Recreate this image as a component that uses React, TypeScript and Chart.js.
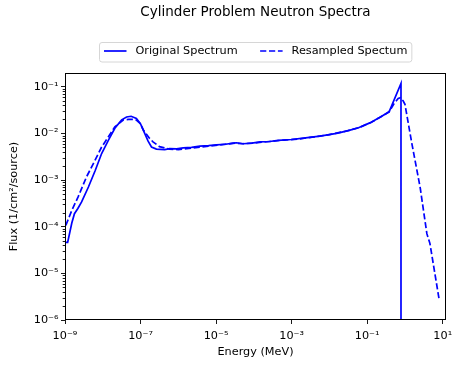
import React, { useEffect, useRef } from "react";
import { Chart, registerables } from "chart.js";

Chart.register(...registerables);

const chartTitle = "Cylinder Problem Neutron Spectra";
const xAxisLabel = "Energy (MeV)";
const yAxisLabel = "Flux (1/cm²/source)";
const seriesNames = ["Original Spectrum", "Resampled Spectum"];

const originalEnergy = [
  1.0e-9, 1.175e-9, 1.514e-9, 1.778e-9, 2.188e-9, 2.754e-9, 4.169e-9, 6.31e-9,
  9.333e-9, 1.413e-8, 2.089e-8, 3.162e-8, 4.266e-8, 5.623e-8, 7.762e-8, 1.0e-7,
  1.288e-7, 1.585e-7, 1.95e-7, 2.63e-7, 4.365e-7, 5.888e-7, 8.913e-7, 1.349e-6,
  2.239e-6, 3.715e-6, 6.31e-6, 1.023e-5, 1.778e-5, 2.818e-5, 3.467e-5, 5.248e-5,
  8.913e-5, 1.445e-4, 2.63e-4, 4.365e-4, 1.0e-3, 2.042e-3, 5.623e-3, 1.549e-2,
  3.162e-2, 5.888e-2, 0.1175, 0.2239, 0.3802, 0.785, 0.785,
];
const originalFlux = [
  4.6e-5, 4.6e-5, 1.2e-4, 1.9e-4, 2.45e-4, 3.4e-4, 7.1e-4, 1.6e-3,
  3.7e-3, 7.2e-3, 1.29e-2, 1.95e-2, 2.25e-2, 2.33e-2, 2.1e-2, 1.6e-2,
  1.0e-2, 6.8e-3, 5.1e-3, 4.6e-3, 4.5e-3, 4.7e-3, 4.65e-3, 4.9e-3,
  5.0e-3, 5.35e-3, 5.45e-3, 5.7e-3, 5.85e-3, 6.2e-3, 6.3e-3, 6.0e-3,
  6.2e-3, 6.6e-3, 6.7e-3, 7.1e-3, 7.4e-3, 7.9e-3, 8.7e-3, 1.0e-2,
  1.15e-2, 1.32e-2, 1.68e-2, 2.25e-2, 2.9e-2, 0.118, 1e-12,
];

const resampledEnergy = [
  1.05e-9, 1.514e-9, 2.239e-9, 3.715e-9, 6.31e-9, 9.333e-9, 1.413e-8, 2.089e-8,
  3.548e-8, 4.786e-8, 6.31e-8, 7.762e-8, 1.0e-7, 1.175e-7, 1.738e-7, 2.138e-7,
  3.162e-7, 5.888e-7, 1.0e-6, 2.512e-6, 6.31e-6, 1.585e-5, 3.162e-5, 5.012e-5,
  1.0e-4, 2.512e-4, 6.31e-4, 1.585e-3, 3.981e-3, 1.0e-2, 2.512e-2, 6.31e-2,
  0.1259, 0.2512, 0.3802, 0.5012, 0.6607, 0.7586, 0.8913, 1.0, 1.514, 2.512,
  3.802, 4.571, 8.128,
];
const resampledFlux = [
  1.07e-4, 2.24e-4, 4.4e-4, 1.17e-3, 2.7e-3, 5.1e-3, 8.5e-3, 1.38e-2,
  1.95e-2, 2.0e-2, 2.0e-2, 1.93e-2, 1.6e-2, 1.2e-2, 7.8e-3, 6.6e-3,
  5.2e-3, 4.6e-3, 4.5e-3, 4.9e-3, 5.3e-3, 5.8e-3, 6.2e-3, 6.0e-3,
  6.2e-3, 6.7e-3, 7.2e-3, 7.6e-3, 8.4e-3, 9.4e-3, 1.1e-2, 1.34e-2,
  1.72e-2, 2.35e-2, 2.9e-2, 4.2e-2, 5.6e-2, 5.8e-2, 5.0e-2, 4.2e-2, 6.2e-3, 7.1e-4,
  7.1e-5, 4.4e-5, 2.6e-6,
];

const xTickValues = [1e-9, 1e-7, 1e-5, 1e-3, 1e-1, 1e1];
const yTickValues = [1e-6, 1e-5, 1e-4, 1e-3, 1e-2, 1e-1];
const xRange = [1e-9, 12.2];
const yRange = [1e-6, 0.197];

const FONT = '"DejaVu Sans", sans-serif';
const SUP = "⁰¹²³⁴⁵⁶⁷⁸⁹";
const sup = (n: number) =>
  String(n)
    .split("")
    .map((c) => (c === "-" ? "⁻" : SUP[Number(c)]))
    .join("");
const fmtPow = (v: number) => "10" + sup(Math.round(Math.log10(v)));

const decorPlugin = {
  id: "decor",
  afterDraw(chart: any) {
    const { ctx, chartArea: a, scales } = chart;
    ctx.save();
    // minor y ticks
    const ys = scales.y;
    ctx.strokeStyle = "#000";
    ctx.lineWidth = 0.9;
    for (let d = -6; d <= 0; d++) {
      for (let m = 2; m <= 9; m++) {
        const v = m * Math.pow(10, d);
        if (v >= ys.max || v <= ys.min) continue;
        const py = Math.round(ys.getPixelForValue(v)) + 0.5;
        ctx.beginPath();
        ctx.moveTo(a.left - 2.3, py);
        ctx.lineTo(a.left, py);
        ctx.stroke();
      }
    }
    // frame
    ctx.lineWidth = 1;
    ctx.strokeStyle = "#000";
    ctx.strokeRect(a.left + 0.5, a.top + 0.5, a.right - a.left - 1, a.bottom - a.top - 1);

    const cx = (a.left + a.right) / 2;
    // title
    ctx.fillStyle = "#000";
    ctx.font = `13.5px ${FONT}`;
    ctx.textAlign = "center";
    ctx.textBaseline = "middle";
    ctx.fillText(chartTitle, cx, 12.5);

    // legend
    ctx.font = `11.25px ${FONT}`;
    const ds = chart.data.datasets;
    const pad = 4.5, handle = 22.5, gap = 9, colSp = 22.5;
    const tw = ds.map((d: any) => ctx.measureText(d.label).width);
    const w = pad * 2 + ds.length * (handle + gap) + tw.reduce((s: number, t: number) => s + t, 0) + colSp * (ds.length - 1);
    const x0 = Math.round(cx - w / 2) + 0.5;
    const y0 = 42.5, h = 19.5;
    const r = 2.5;
    ctx.beginPath();
    ctx.moveTo(x0 + r, y0);
    ctx.lineTo(x0 + w - r, y0);
    ctx.arcTo(x0 + w, y0, x0 + w, y0 + r, r);
    ctx.lineTo(x0 + w, y0 + h - r);
    ctx.arcTo(x0 + w, y0 + h, x0 + w - r, y0 + h, r);
    ctx.lineTo(x0 + r, y0 + h);
    ctx.arcTo(x0, y0 + h, x0, y0 + h - r, r);
    ctx.lineTo(x0, y0 + r);
    ctx.arcTo(x0, y0, x0 + r, y0, r);
    ctx.closePath();
    ctx.fillStyle = "rgba(255,255,255,0.8)";
    ctx.fill();
    ctx.strokeStyle = "#d6d6d6";
    ctx.lineWidth = 1;
    ctx.stroke();
    let x = x0 + pad;
    const my = 51.5;
    ds.forEach((d: any, i: number) => {
      ctx.save();
      ctx.strokeStyle = d.borderColor;
      ctx.lineWidth = d.borderWidth;
      ctx.setLineDash(d.borderDash || []);
      ctx.beginPath();
      ctx.moveTo(x, my - 0.5);
      ctx.lineTo(x + handle, my - 0.5);
      ctx.stroke();
      ctx.restore();
      ctx.fillStyle = "#000";
      ctx.textAlign = "left";
      ctx.textBaseline = "middle";
      ctx.fillText(d.label, x + handle + gap, my);
      x += handle + gap + tw[i] + colSp;
    });
    ctx.restore();
  },
};

export default function App() {
  const ref = useRef<HTMLCanvasElement>(null);
  useEffect(() => {
    document.body.style.margin = "0";
    const tickFont = { family: FONT, size: 11.25 };
    const chart = new Chart(ref.current as HTMLCanvasElement, {
      type: "line",
      data: {
        datasets: [
          {
            label: seriesNames[0],
            data: originalEnergy.map((e, i) => ({ x: e, y: originalFlux[i] })),
            borderColor: "#0000ff",
            borderWidth: 1.7,
            pointRadius: 0,
            tension: 0,
            fill: false,
          },
          {
            label: seriesNames[1],
            data: resampledEnergy.map((e, i) => ({ x: e, y: resampledFlux[i] })),
            borderColor: "#0000ff",
            borderWidth: 1.7,
            borderDash: [6.2, 2.7],
            pointRadius: 0,
            tension: 0,
            fill: false,
          },
        ],
      },
      options: {
        animation: false,
        responsive: false,
        devicePixelRatio: 1,
        events: [],
        layout: { padding: { top: 73, right: 6, left: 0, bottom: 0 } },
        plugins: {
          legend: { display: false },
          title: { display: false },
          tooltip: { enabled: false },
        },
        scales: {
          x: {
            type: "logarithmic",
            min: xRange[0],
            max: xRange[1],
            afterBuildTicks: (s: any) => {
              s.ticks = xTickValues.map((v) => ({ value: v }));
            },
            afterFit: (s: any) => {
              s.height = 47;
              s.paddingLeft = 0;
              s.paddingRight = 0;
            },
            ticks: {
              autoSkip: false,
              maxRotation: 0,
              color: "#000",
              font: tickFont,
              padding: 5,
              callback: (v: any) => fmtPow(Number(v)),
            },
            grid: {
              display: true,
              drawOnChartArea: false,
              drawTicks: true,
              tickLength: 4,
              tickColor: "#000",
              tickWidth: 0.9,
            },
            border: { display: false },
            title: {
              display: true,
              text: xAxisLabel,
              color: "#000",
              font: tickFont,
              padding: { top: 0, bottom: 8.25 },
            },
          },
          y: {
            type: "logarithmic",
            min: yRange[0],
            max: yRange[1],
            afterBuildTicks: (s: any) => {
              s.ticks = yTickValues.map((v) => ({ value: v }));
            },
            afterFit: (s: any) => {
              s.width = 65;
              s.paddingTop = 0;
              s.paddingBottom = 0;
            },
            ticks: {
              autoSkip: false,
              color: "#000",
              font: tickFont,
              padding: 2.5,
              callback: (v: any) => fmtPow(Number(v)),
            },
            grid: {
              display: true,
              drawOnChartArea: false,
              drawTicks: true,
              tickLength: 4,
              tickColor: "#000",
              tickWidth: 0.9,
            },
            border: { display: false },
            title: {
              display: true,
              text: yAxisLabel,
              color: "#000",
              font: tickFont,
              padding: { top: 7.25, bottom: 0 },
            },
          },
        },
      },
      plugins: [decorPlugin],
    } as any);
    return () => chart.destroy();
  }, []);
  return <canvas ref={ref} width={452} height={367} style={{ display: "block" }} />;
}
